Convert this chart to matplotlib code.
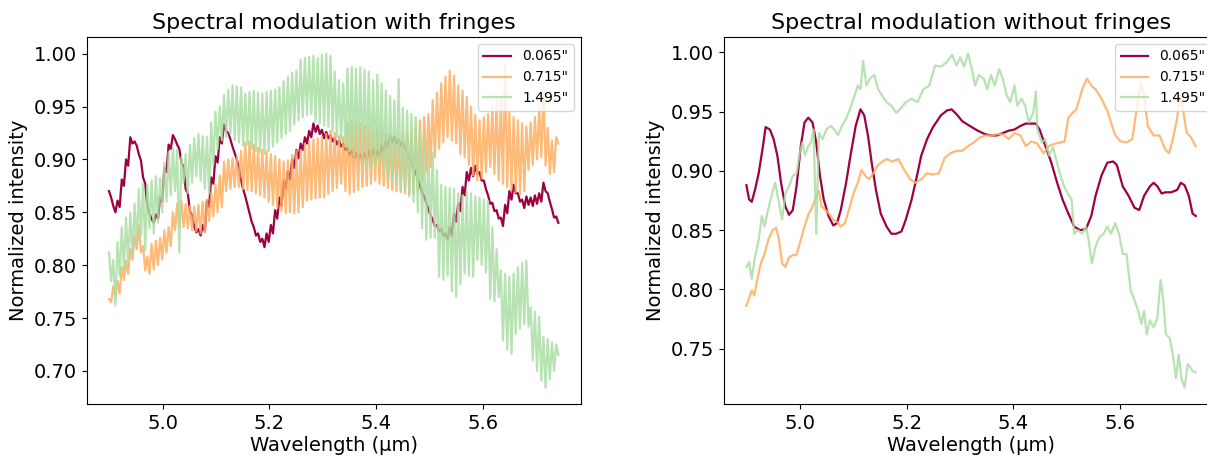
import numpy as np
import matplotlib
matplotlib.use("Agg")
import matplotlib.pyplot as plt

# ---------------- data ----------------
labels = ['0.065"', '0.715"', '1.495"']
colors = ["#9e0142", "#fdae61", "#abdda4"]
wl_start, wl_end = 4.9, 5.74

# Left panel (with fringes): values per fringe cycle
red_fr = [0.867, 0.853, 0.858, 0.878, 0.897, 0.918, 0.915, 0.902, 0.880, 0.852,
          0.842, 0.846, 0.862, 0.890, 0.912, 0.921, 0.912, 0.895, 0.870, 0.849,
          0.834, 0.831, 0.835, 0.858, 0.880, 0.900, 0.918, 0.930, 0.922, 0.909,
          0.896, 0.876, 0.861, 0.845, 0.832, 0.826, 0.821, 0.826, 0.834, 0.848,
          0.860, 0.876, 0.885, 0.896, 0.905, 0.912, 0.918, 0.924, 0.930, 0.928,
          0.924, 0.923, 0.920, 0.917, 0.915, 0.912, 0.908, 0.905, 0.903, 0.902,
          0.903, 0.905, 0.906, 0.905, 0.910, 0.915, 0.919, 0.918, 0.916, 0.913,
          0.905, 0.895, 0.885, 0.872, 0.862, 0.850, 0.840, 0.835, 0.831, 0.827,
          0.832, 0.845, 0.855, 0.870, 0.884, 0.888, 0.890, 0.884, 0.876, 0.862,
          0.855, 0.848, 0.841, 0.853, 0.866, 0.872, 0.864, 0.858, 0.861, 0.860,
          0.862, 0.864, 0.874, 0.864, 0.849, 0.843]
# half amplitude of the small residual ripple on the 0.065" curve
red_ripple = [0.003, 0.003, 0.003, 0.003, 0.003, 0.003, 0.002, 0.003, 0.003, 0.003,
              0.002, 0.002, 0.002, 0.002, 0.002, 0.002, 0.002, 0.002, 0.002, 0.002,
              0.003, 0.003, 0.003, 0.003, 0.003, 0.003, 0.003, 0.003, 0.003, 0.003,
              0.004, 0.004, 0.004, 0.004, 0.004, 0.004, 0.004, 0.004, 0.004, 0.004,
              0.004, 0.004, 0.004, 0.004, 0.004, 0.003, 0.003, 0.003, 0.004, 0.004,
              0.004, 0.003, 0.003, 0.003, 0.003, 0.003, 0.003, 0.003, 0.003, 0.003,
              0.003, 0.003, 0.003, 0.003, 0.003, 0.003, 0.003, 0.003, 0.003, 0.003,
              0.003, 0.003, 0.003, 0.003, 0.003, 0.003, 0.003, 0.003, 0.003, 0.003,
              0.004, 0.004, 0.004, 0.004, 0.004, 0.004, 0.004, 0.004, 0.004, 0.004,
              0.004, 0.004, 0.004, 0.004, 0.004, 0.004, 0.004, 0.004, 0.004, 0.004,
              0.004, 0.004, 0.004, 0.004, 0.004, 0.003]

orange_hi = [0.768, 0.780, 0.785, 0.798, 0.804, 0.815, 0.828, 0.838, 0.818, 0.808,
             0.820, 0.823, 0.826, 0.833, 0.836, 0.850, 0.858, 0.861, 0.858, 0.856,
             0.855, 0.857, 0.860, 0.862, 0.868, 0.876, 0.885, 0.898, 0.900, 0.901,
             0.902, 0.908, 0.916, 0.917, 0.914, 0.911, 0.909, 0.908, 0.905, 0.903,
             0.900, 0.898, 0.899, 0.904, 0.908, 0.909, 0.915, 0.917, 0.919, 0.920,
             0.921, 0.924, 0.927, 0.925, 0.922, 0.921, 0.935, 0.937, 0.936, 0.934,
             0.932, 0.931, 0.927, 0.930, 0.927, 0.924, 0.921, 0.918, 0.919, 0.922,
             0.925, 0.928, 0.931, 0.937, 0.940, 0.943, 0.956, 0.963, 0.972, 0.978,
             0.984, 0.979, 0.970, 0.965, 0.959, 0.950, 0.942, 0.937, 0.940, 0.943,
             0.950, 0.956, 0.958, 0.989, 0.945, 0.940, 0.937, 0.934, 0.931, 0.935,
             0.940, 0.948, 0.968, 0.930, 0.918, 0.921]
orange_lo = [0.765, 0.770, 0.773, 0.786, 0.792, 0.805, 0.815, 0.812, 0.795, 0.792,
             0.796, 0.800, 0.805, 0.812, 0.818, 0.833, 0.836, 0.836, 0.835, 0.833,
             0.832, 0.830, 0.831, 0.842, 0.846, 0.850, 0.855, 0.870, 0.872, 0.874,
             0.874, 0.872, 0.871, 0.870, 0.868, 0.866, 0.864, 0.860, 0.857, 0.854,
             0.851, 0.849, 0.850, 0.849, 0.850, 0.855, 0.861, 0.862, 0.863, 0.864,
             0.864, 0.867, 0.870, 0.873, 0.877, 0.870, 0.867, 0.869, 0.871, 0.874,
             0.875, 0.877, 0.880, 0.877, 0.875, 0.873, 0.871, 0.870, 0.869, 0.868,
             0.867, 0.868, 0.870, 0.880, 0.888, 0.893, 0.902, 0.910, 0.916, 0.921,
             0.918, 0.915, 0.905, 0.902, 0.895, 0.885, 0.880, 0.882, 0.888, 0.893,
             0.886, 0.880, 0.877, 0.874, 0.871, 0.869, 0.867, 0.870, 0.890, 0.895,
             0.900, 0.902, 0.894, 0.886, 0.888, 0.915]

green_hi = [0.812, 0.805, 0.822, 0.836, 0.845, 0.850, 0.858, 0.872, 0.877, 0.876,
            0.880, 0.884, 0.882, 0.897, 0.907, 0.911, 0.909, 0.902, 0.905, 0.914,
            0.920, 0.924, 0.922, 0.921, 0.935, 0.945, 0.950, 0.961, 0.966, 0.970,
            0.969, 0.968, 0.962, 0.964, 0.965, 0.963, 0.962, 0.964, 0.965, 0.966,
            0.968, 0.974, 0.978, 0.982, 0.984, 0.994, 0.996, 0.997, 0.998, 0.996,
            0.999, 1.000, 0.998, 0.983, 0.975, 0.972, 0.986, 0.987, 0.986, 0.987,
            0.985, 0.983, 0.975, 0.980, 0.972, 0.965, 0.960, 0.956, 0.976, 0.949,
            0.946, 0.943, 0.940, 0.930, 0.920, 0.910, 0.906, 0.890, 0.876, 0.874,
            0.873, 0.872, 0.868, 0.866, 0.870, 0.868, 0.865, 0.864, 0.862, 0.861,
            0.836, 0.815, 0.795, 0.792, 0.789, 0.792, 0.798, 0.802, 0.804, 0.760,
            0.756, 0.751, 0.732, 0.730, 0.727, 0.725]
green_lo = [0.785, 0.762, 0.790, 0.796, 0.800, 0.808, 0.818, 0.828, 0.814, 0.835,
            0.830, 0.840, 0.850, 0.860, 0.866, 0.870, 0.812, 0.878, 0.868, 0.878,
            0.884, 0.880, 0.872, 0.868, 0.895, 0.910, 0.918, 0.921, 0.924, 0.918,
            0.916, 0.913, 0.914, 0.910, 0.908, 0.907, 0.905, 0.908, 0.912, 0.916,
            0.920, 0.924, 0.927, 0.933, 0.937, 0.940, 0.942, 0.943, 0.936, 0.934,
            0.932, 0.931, 0.926, 0.921, 0.918, 0.912, 0.908, 0.904, 0.900, 0.897,
            0.893, 0.891, 0.894, 0.898, 0.887, 0.880, 0.880, 0.876, 0.871, 0.870,
            0.865, 0.860, 0.850, 0.835, 0.824, 0.826, 0.826, 0.789, 0.786, 0.790,
            0.775, 0.770, 0.782, 0.792, 0.790, 0.789, 0.805, 0.800, 0.793, 0.768,
            0.766, 0.770, 0.729, 0.720, 0.716, 0.735, 0.740, 0.744, 0.742, 0.710,
            0.700, 0.691, 0.684, 0.692, 0.700, 0.715]

# Right panel (without fringes)
red_wl = [4.899, 4.904, 4.909, 4.915, 4.922, 4.930, 4.935, 4.943, 4.950, 4.957,
          4.964, 4.972, 4.979, 4.986, 4.993, 5.001, 5.008, 5.015, 5.023, 5.030,
          5.037, 5.044, 5.053, 5.062, 5.069, 5.076, 5.086, 5.095, 5.104, 5.113,
          5.120, 5.127, 5.134, 5.142, 5.151, 5.162, 5.171, 5.180, 5.190, 5.198,
          5.209, 5.219, 5.227, 5.238, 5.249, 5.264, 5.275, 5.284, 5.293, 5.304,
          5.318, 5.333, 5.347, 5.358, 5.369, 5.380, 5.391, 5.402, 5.413, 5.423,
          5.442, 5.449, 5.460, 5.471, 5.482, 5.492, 5.503, 5.514, 5.525, 5.536,
          5.546, 5.554, 5.565, 5.576, 5.587, 5.594, 5.605, 5.616, 5.627, 5.636,
          5.645, 5.656, 5.663, 5.670, 5.678, 5.685, 5.696, 5.707, 5.714, 5.721,
          5.729, 5.736, 5.742]
red_nf = [0.888, 0.876, 0.874, 0.884, 0.898, 0.921, 0.937, 0.935, 0.927, 0.913,
          0.890, 0.870, 0.863, 0.867, 0.887, 0.921, 0.941, 0.945, 0.941, 0.924,
          0.896, 0.876, 0.862, 0.854, 0.856, 0.867, 0.890, 0.915, 0.938, 0.952,
          0.947, 0.930, 0.907, 0.884, 0.864, 0.853, 0.847, 0.847, 0.849, 0.859,
          0.876, 0.896, 0.913, 0.927, 0.937, 0.947, 0.951, 0.952, 0.948, 0.942,
          0.938, 0.934, 0.931, 0.930, 0.930, 0.932, 0.934, 0.935, 0.938, 0.940,
          0.940, 0.935, 0.921, 0.907, 0.890, 0.876, 0.864, 0.853, 0.850, 0.851,
          0.862, 0.879, 0.896, 0.907, 0.908, 0.905, 0.887, 0.879, 0.869, 0.867,
          0.879, 0.887, 0.890, 0.887, 0.881, 0.882, 0.882, 0.884, 0.890, 0.888,
          0.879, 0.864, 0.862]

orange_wl = [4.899, 4.904, 4.909, 4.914, 4.919, 4.926, 4.933, 4.940, 4.948, 4.955,
             4.960, 4.966, 4.972, 4.979, 4.986, 4.993, 5.001, 5.008, 5.015, 5.023,
             5.030, 5.035, 5.040, 5.047, 5.054, 5.062, 5.069, 5.076, 5.084, 5.093,
             5.100, 5.108, 5.115, 5.122, 5.129, 5.137, 5.144, 5.151, 5.162, 5.173,
             5.184, 5.195, 5.206, 5.216, 5.227, 5.238, 5.249, 5.260, 5.271, 5.282,
             5.293, 5.304, 5.315, 5.325, 5.336, 5.347, 5.358, 5.369, 5.380, 5.391,
             5.402, 5.413, 5.423, 5.434, 5.445, 5.456, 5.467, 5.477, 5.489, 5.496,
             5.503, 5.511, 5.518, 5.529, 5.538, 5.546, 5.554, 5.565, 5.576, 5.583,
             5.591, 5.601, 5.612, 5.623, 5.630, 5.639, 5.645, 5.652, 5.663, 5.674,
             5.685, 5.692, 5.699, 5.707, 5.712, 5.718, 5.725, 5.732, 5.742]
orange_nf = [0.786, 0.793, 0.799, 0.795, 0.808, 0.822, 0.830, 0.842, 0.850, 0.852,
             0.842, 0.822, 0.819, 0.827, 0.829, 0.829, 0.842, 0.853, 0.863, 0.870,
             0.879, 0.883, 0.870, 0.867, 0.864, 0.859, 0.857, 0.853, 0.856, 0.870,
             0.881, 0.890, 0.901, 0.896, 0.893, 0.898, 0.904, 0.907, 0.910, 0.908,
             0.910, 0.901, 0.893, 0.890, 0.893, 0.898, 0.897, 0.898, 0.911, 0.915,
             0.917, 0.917, 0.921, 0.924, 0.928, 0.930, 0.930, 0.931, 0.931, 0.927,
             0.932, 0.930, 0.921, 0.925, 0.923, 0.915, 0.921, 0.923, 0.924, 0.925,
             0.945, 0.949, 0.952, 0.969, 0.978, 0.972, 0.969, 0.961, 0.951, 0.941,
             0.930, 0.925, 0.924, 0.927, 0.949, 0.975, 0.964, 0.938, 0.930, 0.930,
             0.918, 0.915, 0.927, 0.944, 0.964, 0.952, 0.932, 0.929, 0.921]

green_wl = [4.899, 4.904, 4.909, 4.915, 4.922, 4.928, 4.933, 4.938, 4.946, 4.953,
            4.960, 4.966, 4.972, 4.979, 4.986, 4.993, 4.999, 5.004, 5.009, 5.015,
            5.020, 5.025, 5.030, 5.035, 5.042, 5.049, 5.057, 5.064, 5.071, 5.078,
            5.086, 5.093, 5.100, 5.108, 5.113, 5.118, 5.124, 5.131, 5.139, 5.146,
            5.153, 5.162, 5.171, 5.180, 5.187, 5.198, 5.209, 5.220, 5.231, 5.242,
            5.253, 5.264, 5.275, 5.285, 5.293, 5.300, 5.307, 5.315, 5.322, 5.328,
            5.335, 5.344, 5.351, 5.358, 5.365, 5.373, 5.380, 5.387, 5.394, 5.402,
            5.407, 5.415, 5.422, 5.429, 5.437, 5.442, 5.445, 5.453, 5.460, 5.467,
            5.474, 5.480, 5.487, 5.495, 5.502, 5.509, 5.514, 5.521, 5.529, 5.536,
            5.541, 5.547, 5.554, 5.561, 5.569, 5.576, 5.583, 5.591, 5.598, 5.605,
            5.612, 5.620, 5.627, 5.634, 5.640, 5.645, 5.650, 5.656, 5.663, 5.670,
            5.676, 5.681, 5.686, 5.693, 5.699, 5.705, 5.710, 5.715, 5.721, 5.727,
            5.732, 5.736, 5.742]
green_nf = [0.819, 0.823, 0.809, 0.827, 0.842, 0.862, 0.853, 0.864, 0.879, 0.890,
            0.873, 0.859, 0.881, 0.887, 0.896, 0.898, 0.915, 0.924, 0.913, 0.921,
            0.924, 0.935, 0.847, 0.932, 0.927, 0.935, 0.938, 0.935, 0.930, 0.938,
            0.944, 0.952, 0.961, 0.972, 0.969, 0.993, 0.972, 0.978, 0.981, 0.969,
            0.964, 0.958, 0.955, 0.949, 0.952, 0.958, 0.961, 0.958, 0.969, 0.972,
            0.989, 0.988, 0.992, 0.998, 0.989, 0.996, 0.988, 0.999, 0.986, 0.972,
            0.981, 0.978, 0.969, 0.981, 0.972, 0.986, 0.978, 0.964, 0.958, 0.972,
            0.955, 0.961, 0.955, 0.941, 0.949, 0.967, 0.935, 0.924, 0.927, 0.913,
            0.920, 0.910, 0.898, 0.887, 0.881, 0.876, 0.847, 0.850, 0.847, 0.853,
            0.842, 0.822, 0.836, 0.844, 0.847, 0.853, 0.847, 0.856, 0.847, 0.830,
            0.830, 0.799, 0.791, 0.782, 0.771, 0.782, 0.762, 0.774, 0.768, 0.776,
            0.808, 0.791, 0.762, 0.759, 0.745, 0.725, 0.745, 0.725, 0.717, 0.737,
            0.734, 0.731, 0.730]


def interleave(hi, lo):
    y = np.empty(len(hi) + len(lo))
    y[0::2] = hi
    y[1::2] = lo
    return y


red_base = np.asarray(red_fr)
red_rip = np.asarray(red_ripple)
red_fringed = interleave(red_base + red_rip, red_base - red_rip)
orange_fr = interleave(orange_hi, orange_lo)
green_fr = interleave(green_hi, green_lo)
wl_fr = np.linspace(wl_start, wl_end, len(orange_fr))
wl_red_fr = np.linspace(wl_start, wl_end, len(red_fringed))

# ---------------- figure ----------------
plt.rcParams['font.family'] = 'DejaVu Sans'
fig = plt.figure(figsize=(12.07, 4.57), dpi=100)
ax1 = fig.add_axes([0.0717, 0.1149, 0.4095, 0.8042])
ax2 = fig.add_axes([0.5998, 0.1149, 0.4095, 0.8042])

fs = 14
alpha_l = 0.85
ax1.plot(wl_red_fr, red_fringed, color=colors[0], lw=1.6, label=labels[0])
ax1.plot(wl_fr, orange_fr, color=colors[1], lw=1.6, alpha=alpha_l, label=labels[1])
ax1.plot(wl_fr, green_fr, color=colors[2], lw=1.6, alpha=alpha_l, label=labels[2])

ax2.plot(red_wl, red_nf, color=colors[0], lw=1.6, label=labels[0])
ax2.plot(orange_wl, orange_nf, color=colors[1], lw=1.6, alpha=alpha_l, label=labels[1])
ax2.plot(green_wl, green_nf, color=colors[2], lw=1.6, alpha=alpha_l, label=labels[2])

for ax, title in [(ax1, "Spectral modulation with fringes"),
                  (ax2, "Spectral modulation without fringes")]:
    ax.set_title(title, fontsize=16)
    ax.set_xlabel("Wavelength (µm)", fontsize=fs, labelpad=2)
    ax.set_ylabel("Normalized intensity", fontsize=fs)
    ax.tick_params(labelsize=fs)
    ax.set_xticks([5.0, 5.2, 5.4, 5.6])
    ax.legend(loc="upper right", fontsize=10)

ax1.set_yticks([0.70, 0.75, 0.80, 0.85, 0.90, 0.95, 1.00])
ax2.set_yticks([0.75, 0.80, 0.85, 0.90, 0.95, 1.00])

fig.savefig("out.png", dpi=100)
